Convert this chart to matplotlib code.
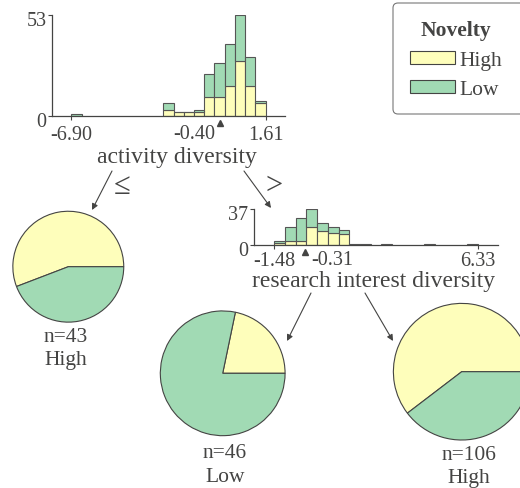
import matplotlib
matplotlib.use('Agg')
import numpy as np
import matplotlib.pyplot as plt
from matplotlib import transforms
from matplotlib.patches import FancyBboxPatch, Rectangle

plt.rcParams['font.family'] = ['Liberation Serif', 'DejaVu Sans']

W, H = 520, 489
dark = '#444443'
class_names = ['High', 'Low']
class_colors = ['#fefebb', '#a1dab4']

# root node: activity diversity (19 bins, counts per class)
act_min, act_max, act_split = -6.90, 1.61, -0.40
act_high = [0, 0, 0, 0, 0, 0, 0, 0, 0, 3, 2, 2, 2, 10, 10, 16, 29, 16, 7]
act_low = [1, 0, 0, 0, 0, 0, 0, 0, 0, 4, 0, 0, 1, 12, 18, 22, 24, 15, 1]

# right child: research interest diversity
res_min, res_max, res_split = -1.48, 6.33, -0.31
res_high = [2, 4, 4, 18, 14, 12, 11, 0, 0, 0, 0, 0, 0, 0, 0, 0, 0, 0, 0]
res_low = [2, 14, 24, 19, 9, 6, 4, 1, 1, 0, 1, 0, 0, 0, 1, 0, 0, 0, 1]

# leaves
leaf_n = [43, 46, 106]
leaf_pred = ['High', 'Low', 'High']
leaf_high = [24, 10, 64]
leaf_low = [19, 36, 42]

fig = plt.figure(figsize=(W / 100, H / 100), dpi=100)


def px_axes(x0, y0, x1, y1):
    return fig.add_axes([x0 / W, 1 - y1 / H, (x1 - x0) / W, (y1 - y0) / H])


def off(ax, dx, dy):
    return transforms.offset_copy(ax.get_xaxis_transform(), fig=fig, x=dx, y=dy, units='dots')


# overlay for arrows, labels and legend (pixel coords)
ov = fig.add_axes([0, 0, 1, 1])
ov.set_xlim(0, W)
ov.set_ylim(H, 0)
ov.axis('off')


def draw_hist(box, vmin, vmax, split, high, low, tickpad, labdy, splitdx, split_ha):
    ax = px_axes(*box)
    high = np.array(high)
    low = np.array(low)
    edges = np.linspace(vmin, vmax, len(high) + 1)
    w = edges[1] - edges[0]
    m = (high + low) > 0
    ax.bar(edges[:-1][m], high[m], width=w, align='edge', color=class_colors[0],
           edgecolor='#555555', linewidth=0.8)
    ax.bar(edges[:-1][m], low[m], bottom=high[m], width=w, align='edge',
           color=class_colors[1], edgecolor='#555555', linewidth=0.8)
    ymax = (high + low).max()
    pad = 0.1 * (vmax - vmin)
    ax.set_xlim(vmin - pad, vmax + pad)
    ax.set_ylim(0, ymax)
    for s in ['top', 'right']:
        ax.spines[s].set_visible(False)
    for s in ['left', 'bottom']:
        ax.spines[s].set_color(dark)
        ax.spines[s].set_linewidth(0.9)
    ax.set_xticks([vmin, vmax])
    ax.set_xticklabels([f'{vmin:.2f}', f'{vmax:.2f}'])
    ax.set_yticks([0, ymax])
    ax.set_yticklabels(['0', str(ymax)])
    ax.tick_params(axis='x', length=3, width=0.8, pad=tickpad, colors=dark, labelsize=14.5)
    ax.tick_params(axis='y', length=3, width=0.8, pad=1, colors=dark, labelsize=14.5)
    for lbl in ax.get_yticklabels():
        lbl.set_transform(lbl.get_transform() +
                          transforms.ScaledTranslation(0, -0.03, fig.dpi_scale_trans))
    ax.plot([split], [0], marker='^', markersize=5, color=dark, clip_on=False,
            transform=off(ax, 0, -7))
    ax.text(split, 0, f'{split:.2f}', transform=off(ax, splitdx, labdy), ha=split_ha,
            va='top', fontsize=14.5, color=dark)
    return ax


draw_hist((52, 16, 285, 117), act_min, act_max, act_split, act_high, act_low,
          3.5, -8.5, -4, 'right')
draw_hist((254, 210, 498, 246), res_min, res_max, res_split, res_high, res_low,
          1, -5, 6, 'left')

ov.text(177, 157, 'activity diversity', ha='center', va='center', fontsize=17, color=dark)
ov.text(374, 282, 'research interest diversity', ha='center', va='center', fontsize=17,
        color=dark)

# leaf pies
pies = [(68.3, 267.7, 56), (222.7, 374.3, 63), (461.7, 372.7, 69)]
text_pos = [(66, 337, 360), (225, 453, 477), (469, 456, 478)]
for i, (cx, cy, r) in enumerate(pies):
    pa = px_axes(cx - r, cy - r, cx + r, cy + r)
    pa.pie([leaf_high[i], leaf_low[i]], colors=class_colors, startangle=0,
           counterclock=True, radius=1,
           wedgeprops=dict(edgecolor=dark, linewidth=0.8))
    pa.set_xlim(-1.01, 1.01)
    pa.set_ylim(-1.01, 1.01)
    tx, ty1, ty2 = text_pos[i]
    ov.text(tx, ty1, f'n={leaf_n[i]}', ha='center', va='center', fontsize=15.5, color=dark)
    ov.text(tx, ty2, leaf_pred[i], ha='center', va='center', fontsize=15.5, color=dark)

# edges
arrows = [((112, 172), (92, 211)), ((244, 172), (271, 209)),
          ((311, 294), (287, 342)), ((365, 294), (393, 342))]
for (x0, y0), (x1, y1) in arrows:
    ov.annotate('', xy=(x1, y1), xytext=(x0, y0),
                arrowprops=dict(arrowstyle='-|>', color=dark, lw=0.8,
                                mutation_scale=9, shrinkA=0, shrinkB=0))
ov.text(122, 187, '≤', ha='center', va='center', fontsize=22, color=dark)
ov.text(274, 186, '>', ha='center', va='center', fontsize=22, color=dark)

# legend
ov.add_patch(FancyBboxPatch((393, 4), 150, 111, boxstyle='round,pad=0,rounding_size=5',
                            facecolor='white', edgecolor='#777777', linewidth=0.8,
                            clip_on=False))
ov.text(456, 36, 'Novelty', ha='center', va='baseline', fontsize=15.5,
        fontweight='bold', color=dark)
for k, name in enumerate(class_names):
    ytop = 52 + 29 * k
    ov.add_patch(Rectangle((410, ytop), 45, 13, facecolor=class_colors[k],
                           edgecolor=dark, linewidth=0.8))
    ov.text(459, ytop + 14, name, ha='left', va='baseline', fontsize=15.5, color=dark)

fig.savefig('out.png', dpi=100)
